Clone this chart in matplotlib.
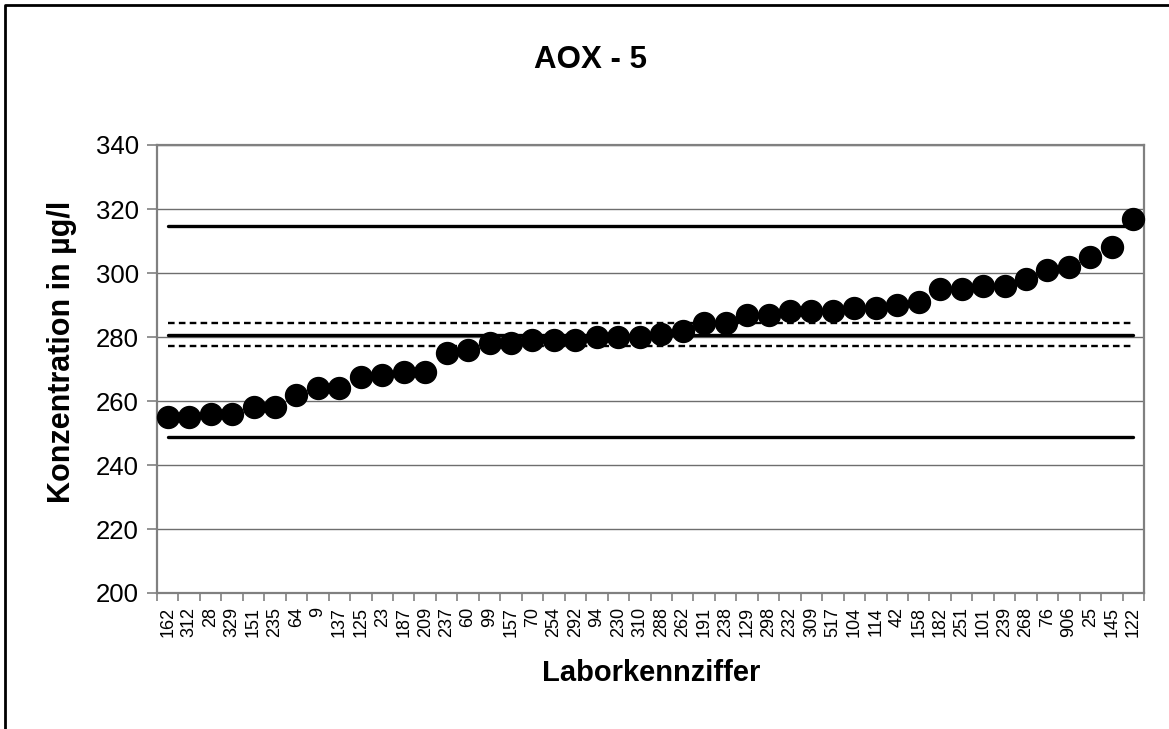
import matplotlib
matplotlib.use("Agg")
import matplotlib.pyplot as plt
from matplotlib.lines import Line2D
import numpy as np

plt.rcParams['font.family'] = ['Liberation Sans', 'DejaVu Sans']

labs = ["162", "312", "28", "329", "151", "235", "64", "9", "137", "125",
        "23", "187", "209", "237", "60", "99", "157", "70", "254", "292",
        "94", "230", "310", "288", "262", "191", "238", "129", "298", "232",
        "309", "517", "104", "114", "42", "158", "182", "251", "101", "239",
        "268", "76", "906", "25", "145", "122"]
values = [255, 255, 256, 256, 258, 258, 262, 264, 264, 267.5,
          268, 269, 269, 275, 276, 278, 278, 279, 279, 279,
          280, 280, 280, 281, 282, 284.5, 284.5, 287, 287, 288,
          288, 288, 289, 289, 290, 291, 295, 295, 296, 296,
          298, 301, 302, 305, 308, 317]
mean_val = 280.6
upper_limit = 314.7
lower_limit = 248.8
upper_ci = 284.3
lower_ci = 277.3

title = "AOX - 5"
xlabel = "Laborkennziffer"
ylabel = "Konzentration in µg/l"
yticks = [200, 220, 240, 260, 280, 300, 320, 340]

W, H = 1169, 729
fig = plt.figure(figsize=(W / 100, H / 100), dpi=100)
ax = fig.add_axes([157 / W, 1 - 593 / H, (1144 - 157) / W, (593 - 145) / H])

x = np.arange(len(labs))
n = len(labs)

ax.set_ylim(200, 340)
ax.set_xlim(-0.5, n - 0.5)
ax.set_yticks(yticks)
ax.set_yticklabels([str(t) for t in yticks], fontsize=18.5)
ax.yaxis.grid(True, color='#6e6e6e', linewidth=1.0, zorder=0)
ax.set_axisbelow(True)

# x ticks: labels at centers, tick marks at boundaries
ax.set_xticks(x)
ax.set_xticklabels(labs, rotation=90, fontsize=13)
ax.tick_params(axis='x', which='major', length=0, pad=10)
ax.set_xticks(np.arange(-0.5, n, 1.0), minor=True)
ax.tick_params(axis='x', which='minor', length=6, width=1.2, color='#808080', direction='out')
ax.tick_params(axis='y', length=7, width=1.2, color='#808080', direction='out', pad=6)

for s in ax.spines.values():
    s.set_color('#808080')
    s.set_linewidth(1.6)

xs = [x[0], x[-1]]
for v in (upper_limit, mean_val, lower_limit):
    ax.plot(xs, [v, v], color='black', linewidth=2.4, solid_capstyle='round', zorder=2)
for v in (upper_ci, lower_ci):
    ax.plot(xs, [v, v], color='black', linewidth=1.7, linestyle=(0, (2.8, 1.8)), zorder=2)

ax.plot(x, values, linestyle='none', marker='o', markersize=15.8,
        color='black', zorder=3, clip_on=False)

fig.text(590 / W, 1 - 60 / H, title, ha='center', va='center', fontsize=22.5, fontweight='bold')
fig.text(651 / W, 1 - 673 / H, xlabel, ha='center', va='center', fontsize=21, fontweight='bold')
fig.text(62 / W, 1 - 352 / H, ylabel, ha='center', va='center', rotation=90,
         fontsize=22, fontweight='bold')

# figure frame (left and top edges)
fig.add_artist(Line2D([5 / W, 5 / W, 1168 / W], [0, 1 - 5 / H, 1 - 5 / H],
                      transform=fig.transFigure, color='black', linewidth=2.0))

fig.savefig("out.png", dpi=100)
